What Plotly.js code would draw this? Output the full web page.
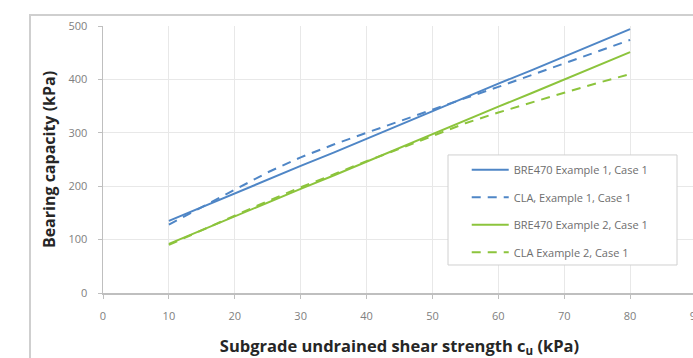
<!DOCTYPE html>
<html>
<head>
<meta charset="utf-8">
<script src="https://cdn.plot.ly/plotly-3.0.1.min.js"></script>
<style>
  html, body { margin: 0; padding: 0; overflow: hidden; background: #fff; }
  #wrap { position: relative; width: 693px; height: 358px; overflow: hidden; }
  #frame { position: absolute; left: 29px; top: 14px; width: 720px; height: 400px;
           border-left: 2px solid #cfcfcf; border-top: 2px solid #cfcfcf; box-sizing: border-box; }
  #chart { position: absolute; left: 0; top: 0; width: 720px; height: 358px; }
</style>
</head>
<body>
<div id="wrap">
  <div id="frame"></div>
  <div id="chart"></div>
</div>
<script>
// Subgrade undrained shear strength c_u (kPa)
const cu = [10, 15, 20, 25, 30, 35, 40, 45, 50, 55, 60, 65, 70, 75, 80];

// Bearing capacity (kPa)
const bre470Ex1 = [135, 161, 187, 212, 238, 263, 289, 315, 340, 366, 392, 417, 443, 468, 494];
const claEx1    = [128, 161, 194, 226, 254, 278, 300, 322, 343, 365, 386, 408, 431, 452, 474];
const bre470Ex2 = [92, 118, 144, 169, 195, 220, 246, 272, 297, 323, 349, 374, 400, 425, 451];
const claEx2    = [90, 118, 145, 172, 198, 222, 247, 270, 294, 318, 338, 357, 375, 393, 410];

const seriesNames = ["BRE470 Example 1, Case 1", "CLA, Example 1, Case 1",
                     "BRE470 Example 2, Case 1", "CLA Example 2, Case 1"];

const xTicks = [0, 10, 20, 30, 40, 50, 60, 70, 80, 90];
const yTicks = [0, 100, 200, 300, 400, 500];

const blue = "#4f86c6";
const green = "#8cc43c";

const traces = [
  { x: cu, y: bre470Ex1, name: seriesNames[0], legendgroup: "a", line: {color: blue, width: 2, dash: "solid"} },
  { x: cu, y: claEx1,    name: seriesNames[1], legendgroup: "b", line: {color: blue, width: 2, dash: "9px,7px"} },
  { x: cu, y: bre470Ex2, name: seriesNames[2], legendgroup: "c", line: {color: green, width: 2, dash: "solid"} },
  { x: cu, y: claEx2,    name: seriesNames[3], legendgroup: "d", line: {color: green, width: 2, dash: "9px,7px"} }
].map(t => Object.assign({type: "scatter", mode: "lines"}, t));

const fontFam = "'Open Sans', 'Liberation Sans', sans-serif";

const layout = {
  width: 720, height: 358,
  margin: {l: 103, r: 24, t: 26, b: 65},
  paper_bgcolor: "rgba(0,0,0,0)",
  plot_bgcolor: "#ffffff",
  showlegend: true,
  font: {family: fontFam, color: "#595959", size: 10},
  xaxis: {
    range: [0, 90], autorange: false,
    tickvals: xTicks, ticktext: xTicks.map(String),
    showgrid: true, gridcolor: "#e8e8e8", gridwidth: 1,
    zeroline: false, showline: true, linecolor: "#bfbfbf", linewidth: 1.5,
    ticks: "outside", ticklen: 4, tickcolor: "#bfbfbf",
    ticklabelstandoff: 8,
    tickfont: {size: 11, color: "#808080"},
    title: {text: "Subgrade undrained shear strength c<sub>u</sub> (kPa)",
            font: {size: 16.5, color: "#262626", family: fontFam, weight: "bold"}, standoff: 24}
  },
  yaxis: {
    range: [0, 500], autorange: false,
    tickvals: yTicks, ticktext: yTicks.map(String),
    showgrid: true, gridcolor: "#e8e8e8", gridwidth: 1,
    zeroline: false, showline: true, linecolor: "#bfbfbf", linewidth: 1.5,
    ticks: "outside", ticklen: 4, tickcolor: "#bfbfbf",
    ticklabelstandoff: 8,
    tickfont: {size: 11, color: "#808080"},
    title: {text: "Bearing capacity (kPa)",
            font: {size: 16, color: "#262626", family: fontFam, weight: "bold"}, standoff: 9}
  },
  shapes: [{
    type: "rect", xref: "paper", yref: "paper", layer: "above",
    x0: 0.5818, x1: 0.968, y0: 0.1049, y1: 0.517,
    fillcolor: "#ffffff", line: {color: "#d0d0d0", width: 1}
  }],
  legend: {
    x: 0.583, y: 0.516, xanchor: "left", yanchor: "top",
    bgcolor: "rgba(0,0,0,0)", borderwidth: 0,
    font: {size: 11, color: "#6e6e6e", family: fontFam},
    traceorder: "grouped", tracegroupgap: 8.5,
    indentation: 18,
    itemwidth: 37
  }
};

Plotly.newPlot("chart", traces, layout, {displayModeBar: false, staticPlot: true});
</script>
</body>
</html>
